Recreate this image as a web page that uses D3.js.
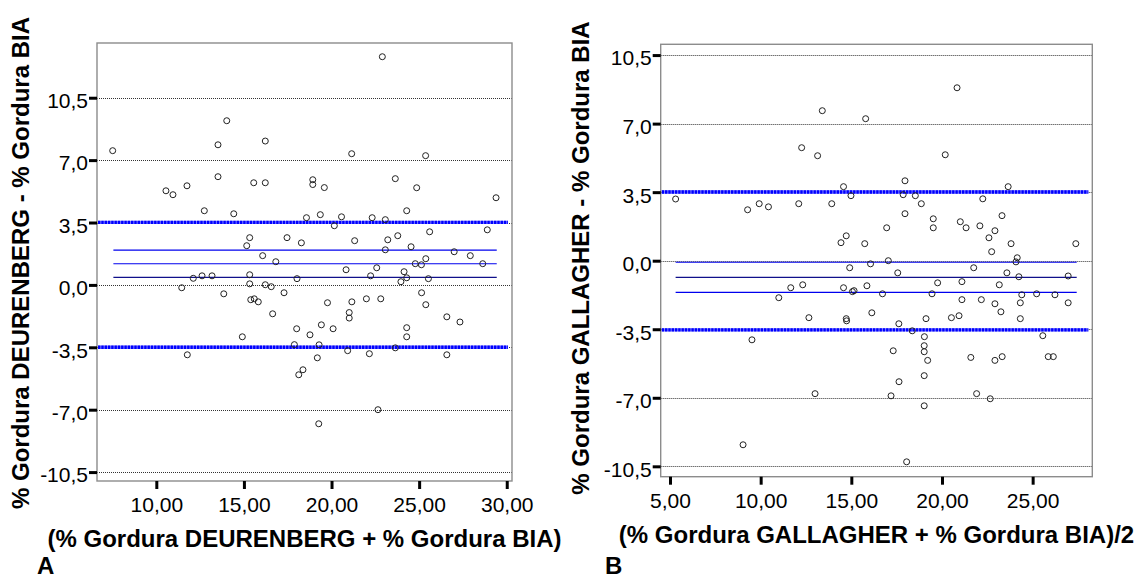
<!DOCTYPE html>
<html><head><meta charset="utf-8">
<script src="https://cdn.jsdelivr.net/npm/d3@7"></script>
<style>body{margin:0;background:#fff} svg{display:block}</style>
</head><body>
<svg id="c" width="1139" height="580"></svg>
<script>
// Panel A data
const aX = [7.51,13.52,16.22,13.52,15.56,16.22,10.55,10.95,11.75,12.74,14.42,18.57,15.33,15.16,17.46,18.28,16.07,16.82,12.11,12.61,13.18,15.33,18.03,11.45,13.85,15.33,16.22,16.56,17.29,15.39,15.59,15.82,16.64,14.02,18.01,14.91,11.77,17.88,18.13,22.90,21.15,25.37,18.93,18.93,19.59,23.64,24.86,29.39,24.29,19.36,20.57,22.32,23.07,20.16,21.32,23.21,23.78,25.60,28.89,23.07,24.54,27.00,27.92,28.63,25.38,24.78,25.13,20.83,22.58,22.23,24.14,24.29,23.96,25.53,19.77,21.16,21.99,22.81,25.14,25.38,21.01,21.01,26.58,27.33,19.42,18.77,20.09,19.29,24.29,24.29,19.19,20.92,22.16,23.64,26.58,18.37,22.65,19.27];
const aY = [7.53,7.86,8.07,6.07,5.73,5.73,5.28,5.06,5.56,4.16,3.99,3.77,2.65,2.20,2.65,2.36,1.64,1.30,0.37,0.51,0.51,0.57,0.35,-0.16,-0.50,0.06,0.01,-0.10,-0.44,-0.83,-0.78,-0.95,-1.62,9.21,-2.46,-2.91,-3.92,-3.35,-5.04,12.80,7.36,7.25,5.90,5.63,5.46,5.96,5.45,4.89,4.16,3.94,3.82,3.77,3.66,3.32,2.48,2.53,2.76,2.98,3.09,1.97,2.14,1.86,1.64,1.19,1.47,1.19,1.13,0.85,0.96,0.51,0.74,0.40,0.18,0.35,-1.00,-0.95,-0.78,-0.78,-0.44,-1.11,-1.55,-1.86,-1.79,-2.08,-2.24,-2.80,-2.46,-3.36,-2.40,-2.91,-4.09,-3.69,-3.86,-3.53,-3.92,-4.76,-7.00,-7.79];
const aLimits = [3.51, -3.50];
const aMeanLines = [1.95, 1.19, 0.42];
const aMeanColors = ["#0000ee", "#0000ee", "#10108a"];
const aLineSpan = [7.55, 29.43];
const aXTicks = [10, 15, 20, 25, 30];
const aYTicks = [10.5, 7.0, 3.5, 0.0, -3.5, -7.0, -10.5];
const aXTitle = "(% Gordura DEURENBERG + % Gordura BIA)";
const aYTitle = "% Gordura DEURENBERG - % Gordura BIA";

// Panel B data
const bX = [5.31,9.28,9.92,10.43,12.10,13.92,12.26,13.14,13.40,14.57,14.98,14.43,14.72,14.91,15.74,16.06,11.66,12.32,11.00,14.57,15.06,15.15,15.86,12.66,14.72,14.74,16.13,9.52,13.00,9.03,17.96,17.86,18.53,18.86,17.96,16.95,19.52,19.52,21.01,21.33,22.25,22.09,23.31,22.92,22.59,23.65,23.81,22.74,27.38,17.04,24.15,24.08,17.56,21.75,23.58,24.24,26.96,19.76,21.10,23.16,16.72,19.45,24.40,25.22,26.23,21.10,22.17,22.92,24.32,26.96,23.25,20.52,20.94,19.12,24.32,17.62,18.36,19.03,25.56,19.02,19.02,17.31,21.59,22.92,23.32,25.86,26.14,19.21,20.83,15.79,20.18,19.02,17.63,17.19,21.91,22.66,19.02,18.05];
const bY = [3.15,2.60,2.91,2.75,2.91,2.91,5.77,5.36,7.66,3.78,3.32,0.92,1.27,-0.36,0.87,-0.16,-1.38,-1.23,-1.89,-1.38,-1.58,-1.53,-1.28,-2.91,-2.96,-3.07,-2.66,-4.04,-6.79,-9.40,4.08,3.37,3.32,2.91,2.40,1.68,2.14,1.68,1.99,1.68,3.16,1.78,2.30,1.53,1.17,3.78,0.87,0.46,0.87,0.00,0.15,-0.06,-0.62,-0.36,-0.62,-0.82,-0.78,-1.13,-1.07,-1.23,-1.69,-1.69,-1.74,-1.69,-1.74,-1.99,-1.99,-2.20,-2.15,-2.15,-2.61,-2.91,-2.81,-2.96,-2.96,-3.22,-3.58,-3.88,-3.83,-4.34,-4.65,-4.60,-4.94,-5.09,-4.90,-4.90,-4.90,-5.09,8.83,7.25,5.41,-5.87,-6.18,-6.90,-6.79,-7.05,-7.41,-10.27];
const bLimits = [3.51, -3.53];
const bMeanLines = [-0.08, -0.85, -1.62];
const bMeanColors = ["#0000ee", "#10108a", "#0000ee"];
const bLineSpan = [5.31, 27.43];
const bXTicks = [5, 10, 15, 20, 25];
const bYTicks = [10.5, 7.0, 3.5, 0.0, -3.5, -7.0, -10.5];
const bXTitle = "(% Gordura GALLAGHER + % Gordura BIA)/2";
const bYTitle = "% Gordura GALLAGHER - % Gordura BIA";

const panelLabels = ["A", "B"];

const svg = d3.select("#c");
const FONT = "'Liberation Sans', Arial, sans-serif";
const loc = d3.formatLocale({decimal: ",", thousands: ".", grouping: [3], currency: ["", ""], minus: "-"});
const fy = loc.format(".1f"), fx = loc.format(".2f");

function panel(o) {
  const g = svg.append("g");
  const x = d3.scaleLinear().domain(o.xDom).range([o.left, o.right]);
  const y = d3.scaleLinear().domain(o.yDom).range([o.bottom, o.top]);

  // dotted grid lines
  g.append("g").selectAll("line").data(o.yTicks).join("line")
    .attr("x1", o.left).attr("x2", o.right)
    .attr("y1", d => Math.round(y(d)) + 0.5).attr("y2", d => Math.round(y(d)) + 0.5)
    .attr("stroke", "#333").attr("stroke-width", 1).attr("stroke-dasharray", "1,1");

  // limits of agreement (thick dotted blue)
  const lim = g.append("g");
  lim.selectAll("line.base").data(o.limits).join("line").attr("class", "base")
    .attr("x1", o.left + 1).attr("x2", o.right - 4)
    .attr("y1", d => y(d)).attr("y2", d => y(d))
    .attr("stroke", "#8a8aff").attr("stroke-width", 3.4);
  lim.selectAll("line.dash").data(o.limits).join("line").attr("class", "dash")
    .attr("x1", o.left + 1).attr("x2", o.right - 4)
    .attr("y1", d => y(d)).attr("y2", d => y(d))
    .attr("stroke", "#0000ff").attr("stroke-width", 3.4).attr("stroke-dasharray", "2.4,0.9");

  // mean / thin lines
  g.append("g").selectAll("line").data(o.meanLines).join("line")
    .attr("x1", x(o.lineSpan[0])).attr("x2", x(o.lineSpan[1]))
    .attr("y1", d => y(d)).attr("y2", d => y(d))
    .attr("stroke", (d, i) => o.meanColors[i]).attr("stroke-width", 1.1);

  // points
  g.append("g").selectAll("circle").data(o.xs.map((v, i) => [v, o.ys[i]])).join("circle")
    .attr("cx", d => x(d[0])).attr("cy", d => y(d[1])).attr("r", 3)
    .attr("fill", "none").attr("stroke", "#222").attr("stroke-width", 1);

  // frame
  g.append("rect").attr("x", o.left).attr("y", o.top)
    .attr("width", o.right - o.left).attr("height", o.bottom - o.top)
    .attr("fill", "none").attr("stroke", "#8c8c8c").attr("stroke-width", 1.4);

  // axes
  const ya = g.append("g").attr("transform", `translate(${o.left},0)`)
    .call(d3.axisLeft(y).tickValues(o.yTicks).tickSize(8).tickPadding(1).tickFormat(fy));
  const xa = g.append("g").attr("transform", `translate(0,${o.bottom})`)
    .call(d3.axisBottom(x).tickValues(o.xTicks).tickSize(8).tickPadding(8.5).tickFormat(fx));
  [ya, xa].forEach(a => {
    a.select(".domain").remove();
    a.selectAll(".tick line").attr("stroke", "#000").attr("stroke-width", 3);
    a.selectAll(".tick text").attr("fill", "#000").style("font-family", FONT).style("font-size", "21px");
  });
  ya.selectAll(".tick text").attr("dy", "0.47em");

  // titles
  g.append("text").attr("x", (o.left + o.right) / 2).attr("y", o.xTitleY)
    .attr("text-anchor", "middle").style("font-family", FONT).style("font-size", "24px")
    .style("font-weight", "bold").text(o.xTitle);
  g.append("text").attr("transform", `translate(${o.yTitlePos[0]},${o.yTitlePos[1]}) rotate(-90)`)
    .attr("text-anchor", "middle").style("font-family", FONT).style("font-size", "24px")
    .style("font-weight", "bold").text(o.yTitle);
  g.append("text").attr("x", o.labelPos[0]).attr("y", o.labelPos[1])
    .style("font-family", FONT).style("font-size", "24px").style("font-weight", "bold").text(o.label);
}

panel({
  xs: aX, ys: aY, limits: aLimits, meanLines: aMeanLines, meanColors: aMeanColors, lineSpan: aLineSpan,
  xTicks: aXTicks, yTicks: aYTicks, xTitle: aXTitle, yTitle: aYTitle, label: panelLabels[0],
  xDom: [6.615, 30.30], yDom: [-11.0, 13.57],
  left: 97, right: 512, top: 43, bottom: 481,
  xTitleY: 546.5, yTitlePos: [28.5, 263], labelPos: [37, 574]
});
panel({
  xs: bX, ys: bY, limits: bLimits, meanLines: bMeanLines, meanColors: bMeanColors, lineSpan: bLineSpan,
  xTicks: bXTicks, yTicks: bYTicks, xTitle: bXTitle, yTitle: bYTitle, label: panelLabels[1],
  xDom: [4.487, 28.29], yDom: [-11.03, 11.05],
  left: 660.7, right: 1092.3, top: 44.3, bottom: 476.7,
  xTitleY: 543.3, yTitlePos: [588.5, 258], labelPos: [605, 574]
});
</script>
</body></html>
